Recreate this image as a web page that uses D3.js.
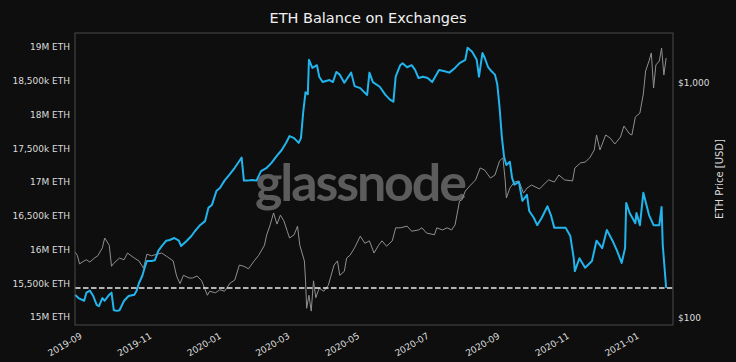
<!DOCTYPE html>
<html>
<head>
<meta charset="utf-8">
<script src="https://cdn.jsdelivr.net/npm/d3@7"></script>
<style>
  body { margin: 0; background: #0e0e0e; }
  svg { display: block; }
</style>
</head>
<body>
<script>
// ETH held on exchanges, millions of ETH
const balanceDates = [
  "2019-08-27","2019-08-30","2019-09-04","2019-09-06","2019-09-09","2019-09-12","2019-09-15","2019-09-17","2019-09-20","2019-09-22",
  "2019-09-26","2019-09-28","2019-09-30","2019-10-03","2019-10-05","2019-10-09","2019-10-13","2019-10-18","2019-10-20","2019-10-22",
  "2019-10-25","2019-10-27","2019-10-29","2019-11-02","2019-11-05","2019-11-08","2019-11-11","2019-11-15","2019-11-18","2019-11-22",
  "2019-11-26","2019-11-28","2019-12-03","2019-12-07","2019-12-10","2019-12-14","2019-12-19","2019-12-22","2019-12-25","2019-12-29",
  "2020-01-01","2020-01-05","2020-01-09","2020-01-14","2020-01-18","2020-01-20","2020-01-22","2020-01-25","2020-01-29","2020-02-02",
  "2020-02-06","2020-02-11","2020-02-15","2020-02-20","2020-02-24","2020-02-28","2020-03-02","2020-03-06","2020-03-10","2020-03-12",
  "2020-03-14","2020-03-16","2020-03-18","2020-03-19","2020-03-22","2020-03-26","2020-03-28","2020-03-31","2020-04-06","2020-04-09",
  "2020-04-12","2020-04-15","2020-04-19","2020-04-25","2020-04-28","2020-05-03","2020-05-07","2020-05-09","2020-05-11","2020-05-14",
  "2020-05-20","2020-05-25","2020-05-29","2020-06-01","2020-06-03","2020-06-07","2020-06-09","2020-06-13","2020-06-17","2020-06-20",
  "2020-06-23","2020-06-27","2020-07-01","2020-07-05","2020-07-11","2020-07-16","2020-07-20","2020-07-25","2020-07-29","2020-08-03",
  "2020-08-05","2020-08-09","2020-08-13","2020-08-15","2020-08-18","2020-08-20","2020-08-23","2020-08-26","2020-08-29","2020-08-31",
  "2020-09-02","2020-09-04","2020-09-06","2020-09-08","2020-09-11","2020-09-13","2020-09-15","2020-09-19","2020-09-22","2020-09-26",
  "2020-09-28","2020-10-02","2020-10-05","2020-10-09","2020-10-14","2020-10-17","2020-10-20","2020-10-24","2020-10-30","2020-11-03",
  "2020-11-06","2020-11-07","2020-11-11","2020-11-16","2020-11-22","2020-11-26","2020-12-01","2020-12-05","2020-12-10","2020-12-14",
  "2020-12-18","2020-12-21","2020-12-22","2020-12-25","2020-12-30","2020-12-31","2021-01-03","2021-01-06","2021-01-11","2021-01-15",
  "2021-01-20","2021-01-22","2021-01-23","2021-01-26"
];
const balanceValues = [
  15.33,15.28,15.24,15.36,15.39,15.31,15.18,15.16,15.28,15.24,
  15.33,15.36,15.10,15.09,15.10,15.24,15.31,15.33,15.39,15.50,
  15.61,15.73,15.83,15.83,15.84,15.98,16.05,16.13,16.14,16.17,
  16.13,16.05,16.13,16.20,16.27,16.35,16.42,16.62,16.66,16.87,
  16.91,17.02,17.10,17.21,17.31,17.36,17.02,17.02,17.03,17.02,
  17.16,17.21,17.28,17.39,17.47,17.58,17.68,17.65,17.58,17.65,
  18.04,18.33,18.30,18.81,18.69,18.73,18.56,18.48,18.51,18.48,
  18.63,18.59,18.47,18.62,18.42,18.39,18.32,18.29,18.62,18.48,
  18.41,18.29,18.22,18.19,18.56,18.73,18.76,18.70,18.73,18.66,
  18.54,18.56,18.54,18.48,18.66,18.64,18.62,18.69,18.76,18.81,
  18.99,18.93,18.81,18.56,18.91,18.84,18.70,18.64,18.59,18.45,
  18.11,17.67,17.37,17.25,17.30,17.06,16.96,17.00,16.72,16.81,
  16.57,16.47,16.36,16.47,16.64,16.51,16.32,16.32,16.32,16.20,
  15.87,15.68,15.87,15.73,15.83,16.13,16.02,16.29,16.13,15.98,
  15.80,16.02,16.69,16.54,16.39,16.54,16.36,16.84,16.51,16.36,
  16.36,16.63,16.07,15.43
];

// ETH price, USD
const priceDates = [
  "2019-08-27","2019-08-29","2019-08-31","2019-09-04","2019-09-06","2019-09-09","2019-09-13","2019-09-16","2019-09-20","2019-09-22",
  "2019-09-26","2019-09-28","2019-09-30","2019-10-05","2019-10-09","2019-10-12","2019-10-18","2019-10-22","2019-10-26","2019-10-29",
  "2019-11-02","2019-11-07","2019-11-11","2019-11-16","2019-11-21","2019-11-24","2019-11-27","2019-11-30","2019-12-05","2019-12-08",
  "2019-12-12","2019-12-16","2019-12-21","2019-12-23","2019-12-28","2020-01-01","2020-01-05","2020-01-10","2020-01-14","2020-01-18",
  "2020-01-22","2020-01-26","2020-01-31","2020-02-04","2020-02-09","2020-02-11","2020-02-14","2020-02-17","2020-02-20","2020-02-23",
  "2020-02-26","2020-02-29","2020-03-02","2020-03-06","2020-03-09","2020-03-11","2020-03-15","2020-03-16","2020-03-17","2020-03-19",
  "2020-03-21","2020-03-23","2020-03-25","2020-03-28","2020-04-01","2020-04-05","2020-04-10","2020-04-13","2020-04-15","2020-04-19",
  "2020-04-21","2020-04-24","2020-04-28","2020-05-03","2020-05-07","2020-05-11","2020-05-15","2020-05-19","2020-05-22","2020-05-26",
  "2020-05-31","2020-06-03","2020-06-07","2020-06-13","2020-06-17","2020-06-23","2020-06-26","2020-06-30","2020-07-07","2020-07-09",
  "2020-07-14","2020-07-18","2020-07-22","2020-07-25","2020-07-29","2020-07-31","2020-08-03","2020-08-07","2020-08-12","2020-08-16",
  "2020-08-20","2020-08-25","2020-08-29","2020-09-02","2020-09-05","2020-09-07","2020-09-08","2020-09-11","2020-09-15","2020-09-19",
  "2020-09-23","2020-09-26","2020-09-30","2020-10-07","2020-10-12","2020-10-15","2020-10-20","2020-10-24","2020-10-29","2020-11-05",
  "2020-11-07","2020-11-12","2020-11-16","2020-11-20","2020-11-24","2020-11-26","2020-11-29","2020-12-04","2020-12-08","2020-12-12",
  "2020-12-17","2020-12-20","2020-12-25","2020-12-27","2020-12-30","2021-01-03","2021-01-06","2021-01-08","2021-01-11","2021-01-13",
  "2021-01-15","2021-01-17","2021-01-20","2021-01-22","2021-01-24","2021-01-26"
];
const priceValues = [
  191,185,170,175,177,173,180,184,199,219,
  204,166,171,180,177,189,180,175,163,187,
  184,187,189,182,175,151,140,152,148,148,
  151,144,125,130,128,132,130,141,145,168,
  166,162,175,185,204,226,249,280,251,274,
  259,234,219,226,246,204,175,145,110,125,
  107,144,122,134,130,138,168,175,152,158,
  180,185,199,223,208,213,189,204,213,202,
  213,242,242,246,234,237,242,230,226,242,
  237,242,237,249,315,318,347,365,387,435,
  426,394,406,466,480,383,324,357,379,383,
  340,357,368,354,375,387,379,406,387,383,
  435,457,461,480,519,601,519,601,583,550,
  589,656,607,601,717,745,898,1125,1241,1342,
  952,1193,1241,1409,1081,1278
];

const balanceTicks = [15, 15.5, 16, 16.5, 17, 17.5, 18, 18.5, 19];
const priceTicks = [100, 1000];
const latestBalance = balanceValues[balanceValues.length - 1];

const width = 736, height = 362;
const margin = { top: 33, right: 63, bottom: 37, left: 75 };
const plotW = width - margin.left - margin.right;
const plotH = height - margin.top - margin.bottom;

const parseDate = d3.timeParse("%Y-%m-%d");
const balance = balanceDates.map((d, i) => ({ date: parseDate(d), value: balanceValues[i] }));
const price = priceDates.map((d, i) => ({ date: parseDate(d), value: priceValues[i] }));

const x = d3.scaleTime()
  .domain([parseDate("2019-08-27"), parseDate("2021-02-01")])
  .range([0, plotW]);
const yBal = d3.scaleLinear().domain([14.881, 19.207]).range([plotH, 0]);
const yPrice = d3.scaleLog().domain([93.4, 1632]).range([plotH, 0]);

const svg = d3.select("body").append("svg")
  .attr("width", width)
  .attr("height", height);

svg.append("rect")
  .attr("width", width).attr("height", height)
  .attr("fill", "#0e0e0e");

svg.append("text")
  .attr("x", width / 2).attr("y", 23)
  .attr("text-anchor", "middle")
  .attr("font-family", "DejaVu Sans")
  .attr("font-size", 14.5)
  .attr("fill", "#f0f0f0")
  .text("ETH Balance on Exchanges");

const g = svg.append("g").attr("transform", `translate(${margin.left},${margin.top})`);

// watermark sits behind the lines
g.append("text")
  .attr("x", plotW / 2 - 13).attr("y", 168)
  .attr("text-anchor", "middle")
  .attr("font-family", "Lato")
  .attr("font-weight", 700)
  .attr("font-size", 52)
  .attr("textLength", 212)
  .attr("fill", "#5c5c5c")
  .text("glassnode");

g.append("path")
  .datum(price)
  .attr("fill", "none")
  .attr("stroke", "#8f8f8f")
  .attr("stroke-width", 1)
  .attr("d", d3.line().x(d => x(d.date)).y(d => yPrice(d.value)));

g.append("path")
  .datum(balance)
  .attr("fill", "none")
  .attr("stroke", "#22b4ec")
  .attr("stroke-width", 2)
  .attr("stroke-linejoin", "round")
  .attr("d", d3.line().x(d => x(d.date)).y(d => yBal(d.value)));

g.append("line")
  .attr("x1", 0).attr("x2", plotW)
  .attr("y1", yBal(latestBalance)).attr("y2", yBal(latestBalance))
  .attr("stroke", "#ececec")
  .attr("stroke-width", 1.5)
  .attr("stroke-dasharray", "5.5,2.5");

g.append("rect")
  .attr("width", plotW).attr("height", plotH)
  .attr("fill", "none")
  .attr("stroke", "#4a4a4a")
  .attr("stroke-width", 1);

function fmtBalance(v) {
  return Number.isInteger(v) ? `${v}M ETH` : `${d3.format(",")(v * 1000)}k ETH`;
}

const yAxisL = g.append("g")
  .call(d3.axisLeft(yBal).tickValues(balanceTicks).tickFormat(fmtBalance).tickSize(0).tickPadding(5));
const yAxisR = g.append("g")
  .attr("transform", `translate(${plotW},0)`)
  .call(d3.axisRight(yPrice).tickValues(priceTicks).tickFormat(v => "$" + d3.format(",")(v)).tickSize(0).tickPadding(5));
const xAxis = g.append("g")
  .attr("transform", `translate(0,${plotH})`)
  .call(d3.axisBottom(x).ticks(d3.timeMonth.every(2)).tickFormat(d3.timeFormat("%Y-%m")).tickSize(0));

[yAxisL, yAxisR, xAxis].forEach(ax => {
  ax.select(".domain").remove();
  ax.selectAll("text")
    .attr("font-family", "DejaVu Sans")
    .attr("font-size", 9)
    .attr("fill", "#dcdcdc");
});

xAxis.selectAll("text")
  .attr("text-anchor", "end")
  .attr("y", 0).attr("dy", "0.35em")
  .attr("transform", "translate(0,10) rotate(-30)");

svg.append("text")
  .attr("transform", `translate(719,${margin.top + plotH / 2}) rotate(-90)`)
  .attr("text-anchor", "middle")
  .attr("dy", "0.35em")
  .attr("font-family", "DejaVu Sans")
  .attr("font-size", 10)
  .attr("fill", "#dcdcdc")
  .text("ETH Price [USD]");
</script>
</body>
</html>
